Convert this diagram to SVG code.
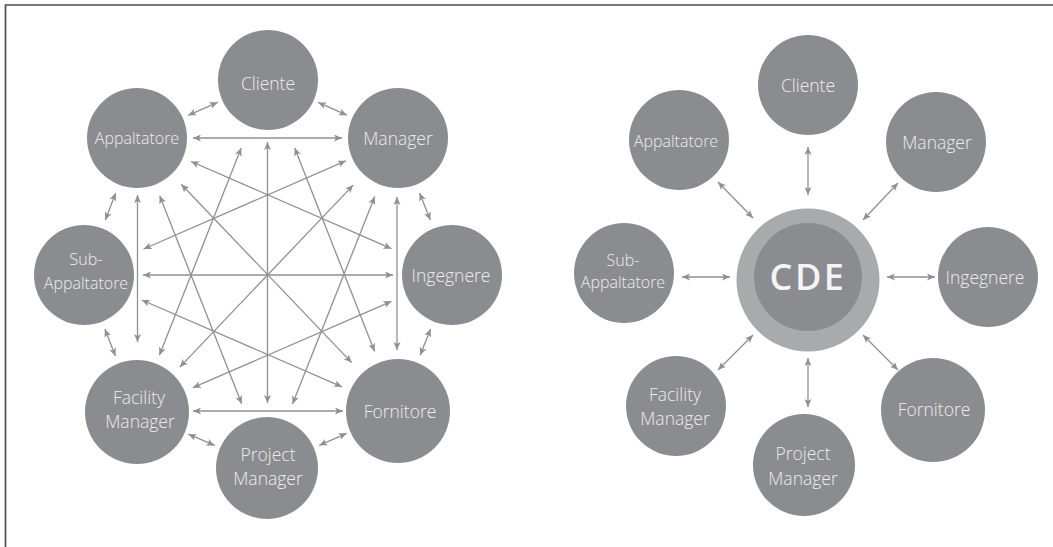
<svg xmlns="http://www.w3.org/2000/svg" width="1053" height="547" viewBox="0 0 1053 547">
<style>
.n{fill:#8b8c90}
.t{font-family:"Open Sans","Liberation Sans",sans-serif;font-size:17.5px;font-weight:300;fill:#ececec;text-anchor:middle}
.s{font-size:16px}
.c line{stroke:#8f9095;stroke-width:1.3;fill:none;marker-start:url(#ah);marker-end:url(#ah)}
</style>
<defs>
<marker id="ah" markerUnits="userSpaceOnUse" markerWidth="9" markerHeight="7" refX="8" refY="3.5" orient="auto-start-reverse">
<path d="M0,0 L8,3.5 L0,7 L2,3.5 z" fill="#8f9095"/>
</marker>
</defs>
<rect width="1053" height="547" fill="#fff"/>
<path d="M5.5,547 V5 H1053" fill="none" stroke="#4e4e4e" stroke-width="1.7"/>

<g id="connectors-left" class="c">
<line x1="188.2" y1="115.3" x2="217.7" y2="102.3"/>
<line x1="318.2" y1="102.4" x2="346.9" y2="115.2"/>
<line x1="193" y1="138" x2="342" y2="138"/>
<line x1="419.6" y1="192.9" x2="430.4" y2="220.1"/>
<line x1="115.7" y1="193" x2="105.3" y2="220"/>
<line x1="143" y1="275" x2="393" y2="275"/>
<line x1="137.5" y1="195" x2="137.5" y2="342"/>
<line x1="397" y1="197" x2="397" y2="350"/>
<line x1="104.9" y1="329.1" x2="115.4" y2="356"/>
<line x1="430.6" y1="328.9" x2="420.1" y2="355.2"/>
<line x1="193" y1="411" x2="343" y2="411"/>
<line x1="188.4" y1="434.2" x2="214.6" y2="445.4"/>
<line x1="346.7" y1="433.3" x2="319.3" y2="445.3"/>
<line x1="267.5" y1="142" x2="267.5" y2="403"/>
<line x1="241.2" y1="147.9" x2="159.4" y2="355.3"/>
<line x1="294.7" y1="147.9" x2="374.6" y2="351.4"/>
<line x1="191.1" y1="161.5" x2="391.5" y2="248.7"/>
<line x1="345.8" y1="160.8" x2="143.6" y2="249"/>
<line x1="181.2" y1="184.3" x2="351.7" y2="362.6"/>
<line x1="353.2" y1="185.1" x2="179.8" y2="367.1"/>
<line x1="159.7" y1="195.7" x2="241.7" y2="403.8"/>
<line x1="374.8" y1="196.6" x2="292.5" y2="403.9"/>
<line x1="141.8" y1="300" x2="342" y2="386.8"/>
<line x1="391.5" y1="301.3" x2="192.9" y2="387.7"/>
</g>

<g id="connectors-right" class="c">
<line x1="808" y1="147" x2="808" y2="195"/>
<line x1="718" y1="182" x2="753" y2="218"/>
<line x1="898" y1="183" x2="863" y2="220"/>
<line x1="682" y1="277" x2="730" y2="277"/>
<line x1="887" y1="277" x2="935" y2="277"/>
<line x1="718" y1="370" x2="753" y2="335"/>
<line x1="808" y1="358" x2="808" y2="407"/>
<line x1="863" y1="335" x2="898" y2="370"/>
</g>

<g id="L-cliente"><circle class="n" cx="268" cy="80" r="50"/><text class="t" x="268" y="90">Cliente</text></g>
<g id="L-appaltatore"><circle class="n" cx="137" cy="138" r="50"/><text class="t s" x="137" y="144">Appaltatore</text></g>
<g id="L-manager"><circle class="n" cx="398" cy="138" r="50"/><text class="t" x="398" y="145">Manager</text></g>
<g id="L-sub"><circle class="n" cx="84" cy="275" r="50"/><text class="t s" x="86" y="265">Sub-</text><text class="t s" x="86" y="289">Appaltatore</text></g>
<g id="L-ingegnere"><circle class="n" cx="452" cy="275" r="50"/><text class="t" x="451" y="282">Ingegnere</text></g>
<g id="L-facility"><circle class="n" cx="137" cy="412" r="52"/><text class="t" x="139" y="404">Facility</text><text class="t" x="140" y="428">Manager</text></g>
<g id="L-fornitore"><circle class="n" cx="398" cy="411" r="52"/><text class="t" x="400" y="418">Fornitore</text></g>
<g id="L-pm"><circle class="n" cx="267" cy="468" r="51"/><text class="t" x="268" y="461">Project</text><text class="t" x="268" y="485">Manager</text></g>

<g id="R-cde"><circle cx="808" cy="280" r="71.5" fill="#a8aaac"/><circle class="n" cx="808" cy="277" r="54"/><text x="808" y="290" style="font-family:'Open Sans','Liberation Sans',sans-serif;font-size:36px;font-weight:600;fill:#f4f4f4;text-anchor:middle;letter-spacing:2.5px">CDE</text></g>
<g id="R-cliente"><circle class="n" cx="808" cy="85" r="50"/><text class="t" x="808" y="92">Cliente</text></g>
<g id="R-appaltatore"><circle class="n" cx="679" cy="140" r="50"/><text class="t s" x="676" y="147">Appaltatore</text></g>
<g id="R-manager"><circle class="n" cx="936" cy="142" r="50"/><text class="t" x="937" y="149">Manager</text></g>
<g id="R-sub"><circle class="n" cx="624" cy="273" r="50"/><text class="t s" x="623" y="266">Sub-</text><text class="t s" x="623" y="288">Appaltatore</text></g>
<g id="R-ingegnere"><circle class="n" cx="988" cy="277" r="50"/><text class="t" x="985" y="284">Ingegnere</text></g>
<g id="R-facility"><circle class="n" cx="676" cy="406" r="50"/><text class="t" x="675" y="401">Facility</text><text class="t" x="675" y="425">Manager</text></g>
<g id="R-pm"><circle class="n" cx="804" cy="465" r="51"/><text class="t" x="803" y="460">Project</text><text class="t" x="803" y="485">Manager</text></g>
<g id="R-fornitore"><circle class="n" cx="933" cy="410" r="52"/><text class="t" x="934" y="416">Fornitore</text></g>
</svg>
